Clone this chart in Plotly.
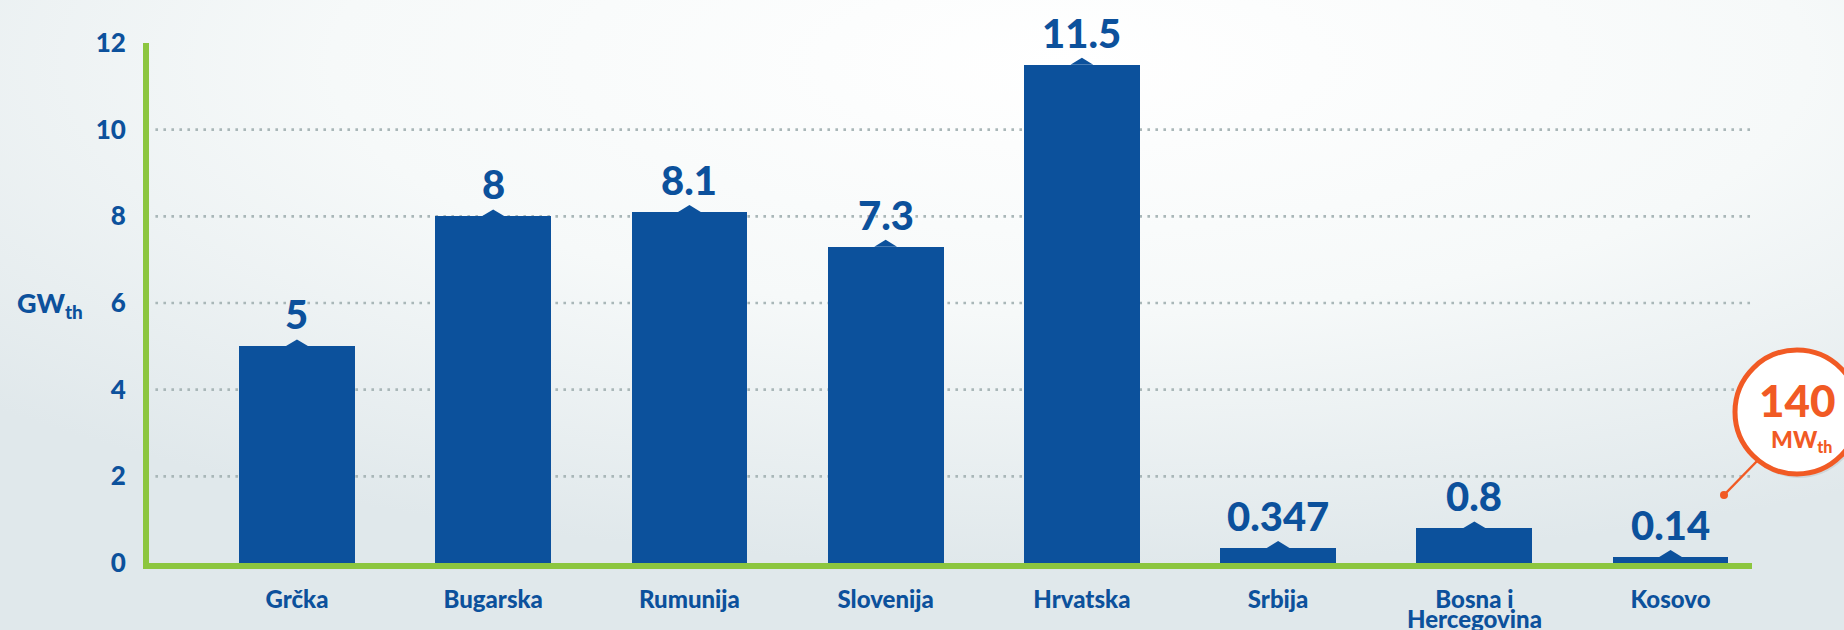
import base64
import plotly.graph_objects as go

# ---------------- data ----------------
categories = ["Grčka", "Bugarska", "Rumunija", "Slovenija", "Hrvatska",
              "Srbija", "Bosna i|Hercegovina", "Kosovo"]
values = [5, 8, 8.1, 7.3, 11.5, 0.347, 0.8, 0.14]
value_labels = ["5", "8", "8.1", "7.3", "11.5", "0.347", "0.8", "0.14"]
y_ticks = [0, 2, 4, 6, 8, 10, 12]
grid_values = [2, 4, 6, 8, 10]
y_title = "GW<sub>th</sub>"
callout_number = "140"
callout_unit = "MW<sub>th</sub>"

# ---------------- style ----------------
W, H = 1844, 630
ML, MR, MT, MB = 149, 92, 43, 67
PW, PH = W - ML - MR, H - MT - MB
BLUE = "#0c519c"
GREEN = "#8cc63f"
ORANGE = "#f15a24"
GRID = "#a9b7b8"
FONT = "Lato"
HEAVY = 900

x_idx = list(range(len(categories)))
first_lines = [c.split("|")[0] for c in categories]
second_lines = [c.split("|")[1] if "|" in c else "" for c in categories]


def px_x(px):
    return (px - ML) / PW


def px_y(py):
    return (H - MB - py) / PH


fig = go.Figure()
fig.add_trace(go.Bar(
    x=x_idx, y=values, width=0.59, marker=dict(color=BLUE, line=dict(width=0)),
    hoverinfo="skip", showlegend=False,
))

shapes = []
# dotted grid lines
for g in grid_values:
    shapes.append(dict(type="line", xref="paper", yref="y", x0=0.004, x1=1, y0=g, y1=g,
                       line=dict(color=GRID, width=2.6, dash="2.6px,5.4px"), layer="below"))

# small notch on top of each bar
dx, dy = 0.058, 0.16
for i, v in zip(x_idx, values):
    shapes.append(dict(type="path", xref="x", yref="y",
                       path=f"M {i-dx},{v} L {i},{v+dy} L {i+dx},{v} Z",
                       fillcolor=BLUE, line=dict(width=0)))

# callout for Kosovo
cx, cy, r = 1797, 412, 62
shapes.append(dict(type="circle", xref="paper", yref="paper",
                   x0=px_x(cx - r + 2), x1=px_x(cx + r + 2), y0=px_y(cy + r + 4), y1=px_y(cy - r + 4),
                   fillcolor="rgba(120,130,135,0.18)", line=dict(width=0)))
shapes.append(dict(type="line", xref="paper", yref="paper",
                   x0=px_x(1724), y0=px_y(495), x1=px_x(1760), y1=px_y(458),
                   line=dict(color=ORANGE, width=2.5)))
shapes.append(dict(type="circle", xref="paper", yref="paper",
                   x0=px_x(1720), x1=px_x(1728), y0=px_y(499), y1=px_y(491),
                   fillcolor=ORANGE, line=dict(width=0)))
shapes.append(dict(type="circle", xref="paper", yref="paper",
                   x0=px_x(cx - r), x1=px_x(cx + r), y0=px_y(cy + r), y1=px_y(cy - r),
                   fillcolor="white", line=dict(color=ORANGE, width=5)))

annotations = []
for i, v, t in zip(x_idx, values, value_labels):
    annotations.append(dict(x=i, y=v, xref="x", yref="y", text=t, showarrow=False,
                            yanchor="bottom", yshift=6,
                            font=dict(family=FONT, size=40, color=BLUE, weight=HEAVY)))

# second line of wrapped category labels (tight line spacing as in the original)
for i, t in zip(x_idx, second_lines):
    if t:
        annotations.append(dict(x=i, y=px_y(618), xref="x", yref="paper", text=t, showarrow=False,
                                xanchor="center", yanchor="middle",
                                font=dict(family=FONT, size=24, color=BLUE, weight=HEAVY)))

annotations.append(dict(x=px_x(50), y=px_y(304), xref="paper", yref="paper", text=y_title,
                        showarrow=False, xanchor="center", yanchor="middle",
                        font=dict(family=FONT, size=27, color=BLUE, weight=HEAVY)))
annotations.append(dict(x=px_x(cx), y=px_y(400), xref="paper", yref="paper", text=callout_number,
                        showarrow=False, xanchor="center", yanchor="middle",
                        font=dict(family=FONT, size=44, color=ORANGE, weight=HEAVY)))
annotations.append(dict(x=px_x(cx + 4), y=px_y(440), xref="paper", yref="paper", text=callout_unit,
                        showarrow=False, xanchor="center", yanchor="middle",
                        font=dict(family=FONT, size=23, color=ORANGE, weight=HEAVY)))

# background gradient
svg = (f"<svg xmlns='http://www.w3.org/2000/svg' width='{W}' height='{H}' "
       f"viewBox='0 0 {W} {H}' preserveAspectRatio='none'>"
       "<defs><radialGradient id='g' cx='0.58' cy='0.1' r='0.8'>"
       "<stop offset='0' stop-color='#ffffff'/>"
       "<stop offset='0.5' stop-color='#f6f9f9'/>"
       "<stop offset='1' stop-color='#e0e8eb'/>"
       "</radialGradient></defs>"
       f"<rect width='{W}' height='{H}' fill='url(#g)'/></svg>")
src = "data:image/svg+xml;base64," + base64.b64encode(svg.encode()).decode()

fig.update_layout(
    width=W, height=H, autosize=False,
    margin=dict(l=ML, r=MR, t=MT, b=MB, pad=0, autoexpand=False),
    paper_bgcolor="#eef3f4", plot_bgcolor="rgba(0,0,0,0)",
    bargap=0,
    shapes=shapes, annotations=annotations,
    images=[dict(source=src, xref="paper", yref="paper", x=-ML / PW, y=1 + MT / PH,
                 sizex=W / PW, sizey=H / PH, sizing="stretch", xanchor="left", yanchor="top",
                 layer="below")],
    xaxis=dict(range=[-0.754, 7.415], tickmode="array", tickvals=x_idx, ticktext=first_lines,
               showgrid=False, zeroline=False, showline=True, linecolor=GREEN, linewidth=6,
               ticks="", ticklabelstandoff=10, automargin=False,
               tickfont=dict(family=FONT, size=24, color=BLUE, weight=HEAVY)),
    yaxis=dict(range=[0, 12], tickmode="array", tickvals=y_ticks,
               showgrid=False, zeroline=False, showline=True, linecolor=GREEN, linewidth=6,
               ticks="", ticklabelstandoff=12, automargin=False,
               tickfont=dict(family=FONT, size=26, color=BLUE, weight=HEAVY)),
)

fig.write_html("out.html", config={"displayModeBar": False},
               post_script="document.body.style.margin='0';document.body.style.overflow='hidden';")
